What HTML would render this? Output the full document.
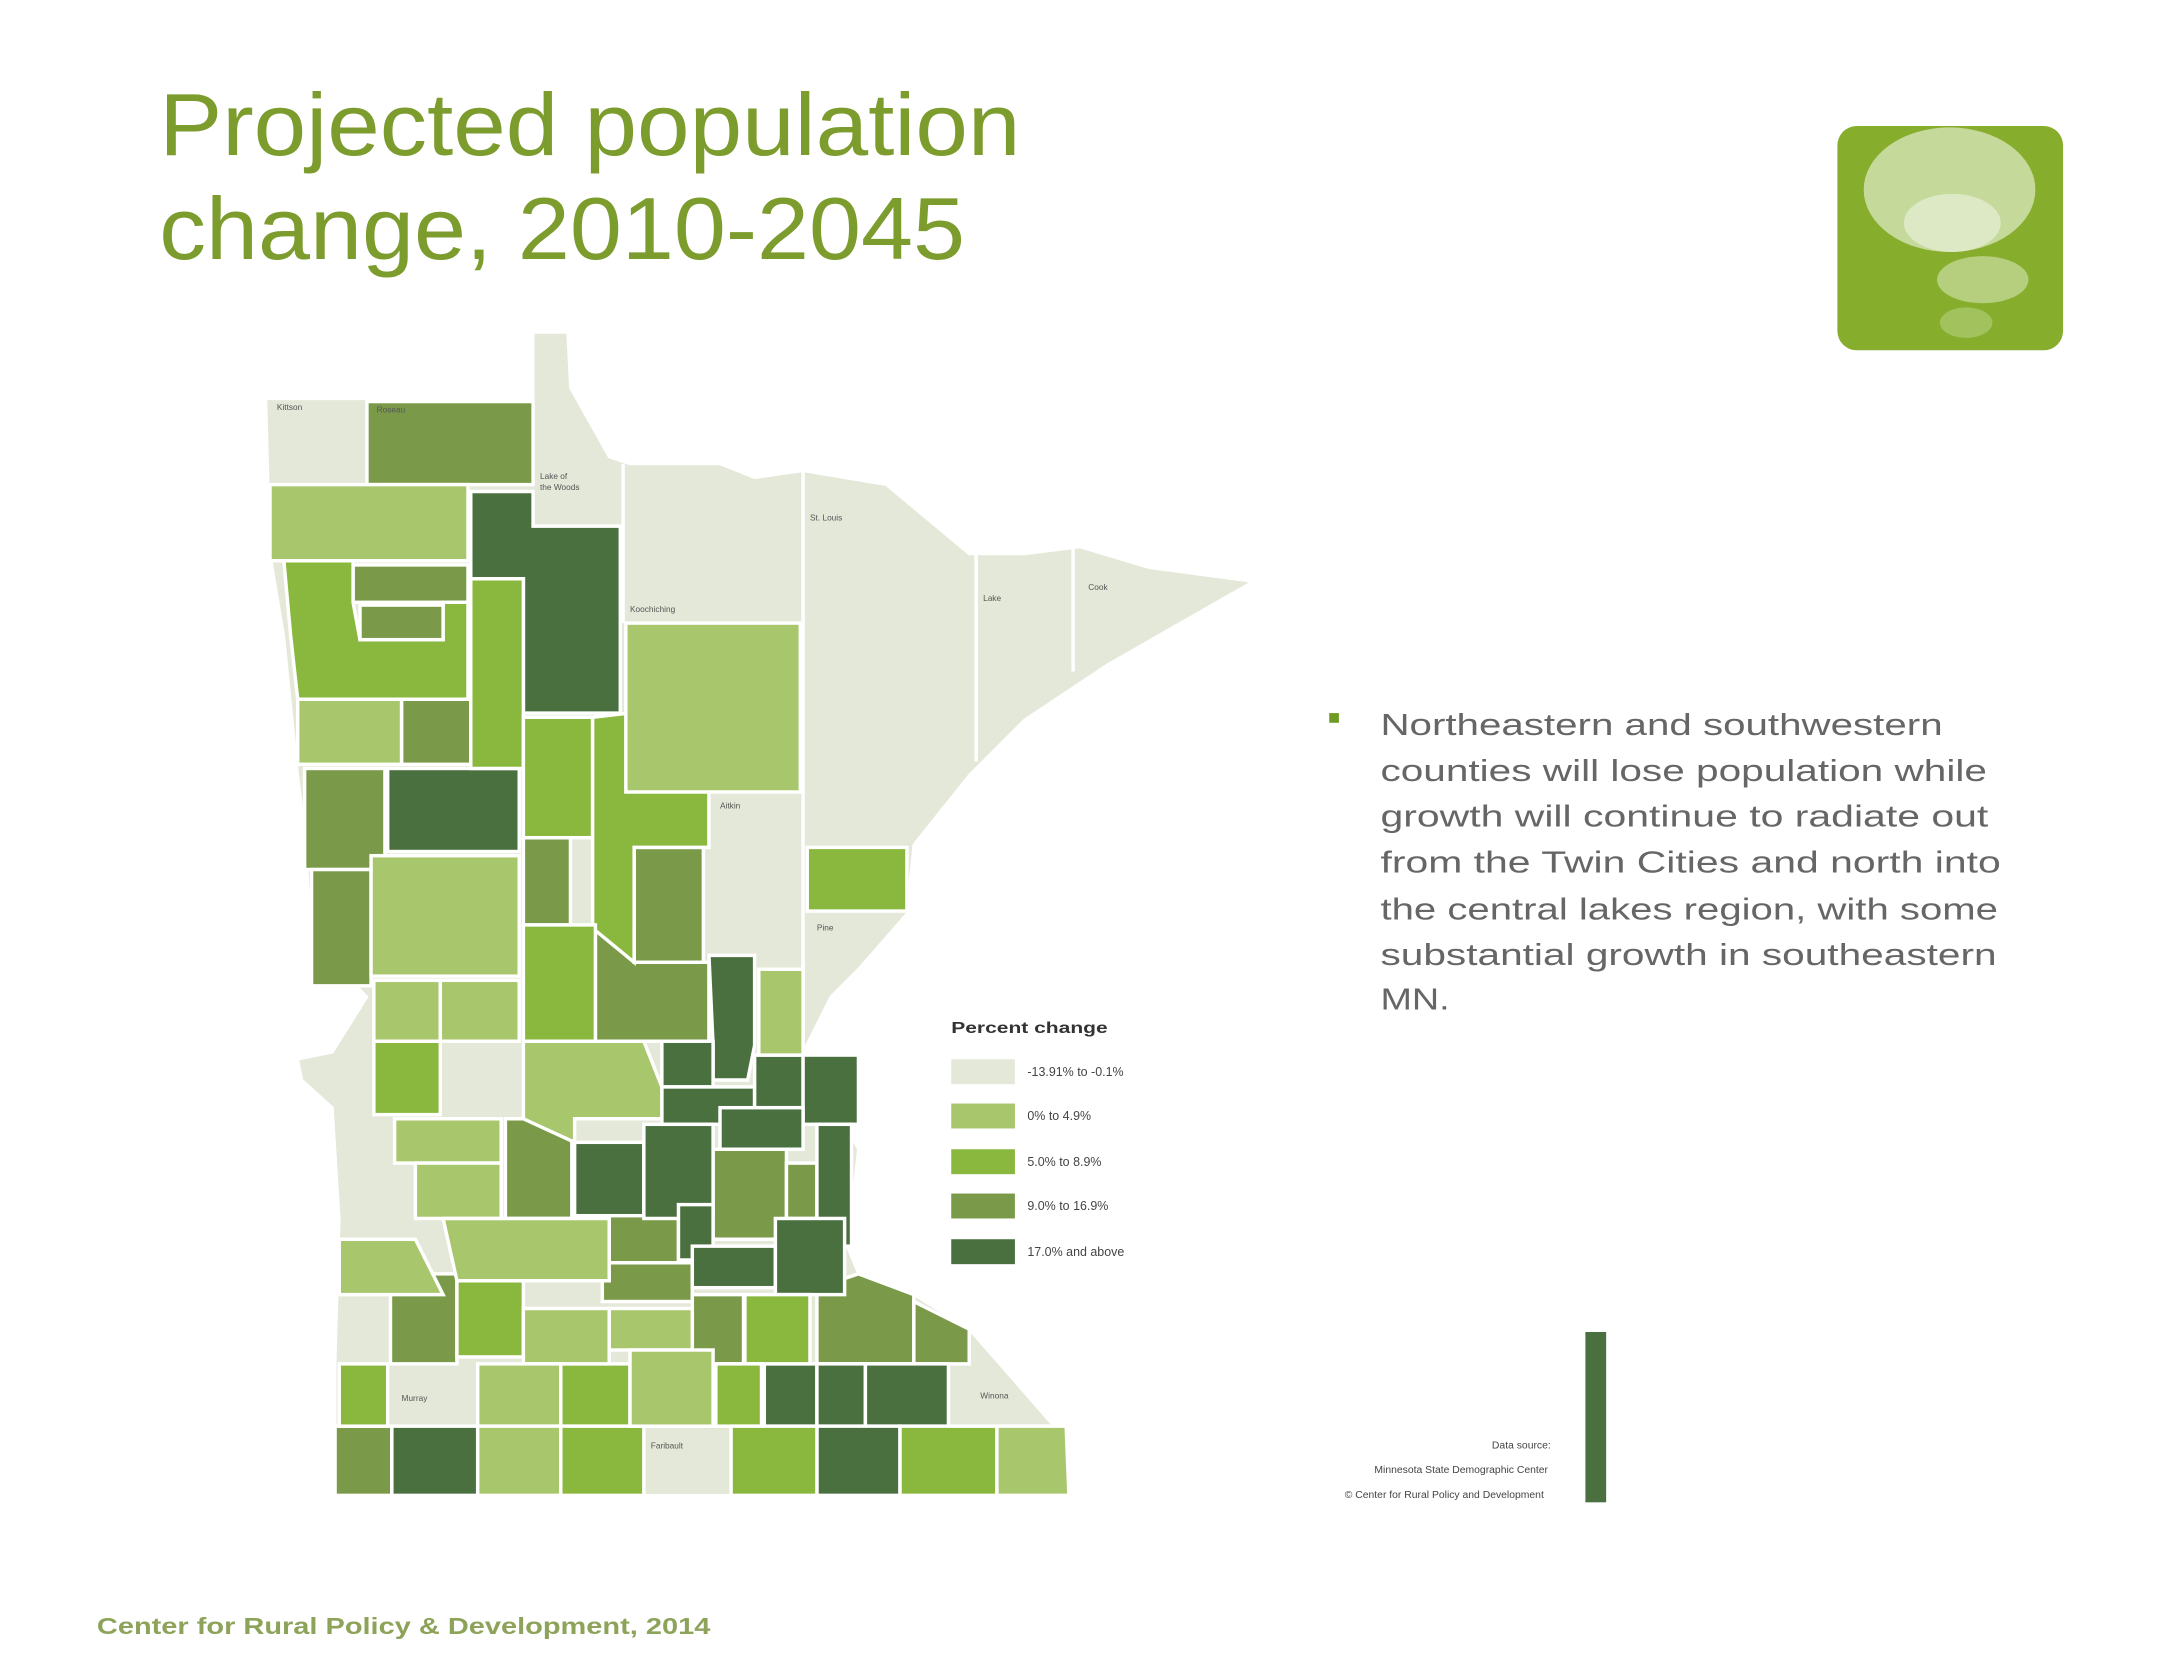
<!DOCTYPE html>
<html><head><meta charset="utf-8"><style>
html,body{margin:0;padding:0;background:#fff;}
svg{display:block;}
</style></head><body>
<svg width="2160" height="1680" viewBox="0 0 1560 1213.33" preserveAspectRatio="none" xmlns="http://www.w3.org/2000/svg" font-family="Liberation Sans, sans-serif">
<rect width="1560" height="1213.33" fill="#fff"/>
<!-- Title -->
<text x="115" y="112" font-size="64" fill="#7d9c2e" textLength="622" lengthAdjust="spacingAndGlyphs">Projected population</text>
<text x="115" y="187" font-size="64" fill="#7d9c2e" textLength="582" lengthAdjust="spacingAndGlyphs">change, 2010-2045</text>
<!-- Logo -->
<rect x="1327" y="91" width="163" height="162" rx="14" fill="#86ad2c"/>
<ellipse cx="1408" cy="137" rx="62" ry="45" fill="#c5d99a"/>
<ellipse cx="1410" cy="161" rx="35" ry="21" fill="#dde9c4"/>
<ellipse cx="1432" cy="202" rx="33" ry="17" fill="#b5cf7e"/>
<ellipse cx="1420" cy="233" rx="19" ry="11" fill="#a2c25e"/>
<!-- Map outline -->
<polygon fill="#e4e8d8" stroke="#fff" stroke-width="2" points="192,288 385,288 385,240 410,240 412,280 440,330 455,335 520,335 545,345 580,340 640,350 700,400 740,400 780,395 830,410 905,420 870,440 800,480 740,520 700,560 660,610 655,660 620,700 600,720 580,760 610,765 620,790 612,815 620,830 612,900 620,920 660,935 700,960 770,1040 772,1080 242,1080 242,985 245,880 240,800 218,780 215,765 240,760 265,720 225,680 220,600 215,560 205,460 195,400"/>
<g stroke="#fff" stroke-width="2.5">
<line x1="450" y1="335" x2="450" y2="450" />
<line x1="580" y1="340" x2="580" y2="760"/>
<line x1="705" y1="400" x2="705" y2="550"/>
<line x1="775" y1="395" x2="775" y2="485"/>
<g fill="#7a9a4a">
<rect x="265" y="290" width="120" height="60"/>
<rect x="255" y="408" width="83" height="27"/>
<rect x="290" y="505" width="50" height="47"/>
<rect x="220" y="555" width="58" height="73"/>
<rect x="225" y="628" width="43" height="84"/>
<rect x="378" y="605" width="34" height="63"/>
<rect x="458" y="612" width="50" height="83"/>
<polygon points="430,672 458,672 458,695 512,695 512,752 430,752"/>
<rect x="365" y="808" width="48" height="72"/>
<rect x="515" y="830" width="53" height="65"/>
<rect x="568" y="840" width="22" height="40"/>
<rect x="440" y="870" width="50" height="42"/>
<rect x="435" y="912" width="65" height="28"/>
<rect x="500" y="935" width="37" height="50"/>
<polygon points="590,930 620,920 660,935 660,985 590,985"/>
<polygon points="660,940 700,960 700,985 660,985"/>
<rect x="282" y="920" width="48" height="65"/>
<rect x="242" y="1030" width="41" height="50"/>
</g>
<g fill="#4a7040">
<polygon points="340,355 385,355 385,380 448,380 448,515 378,515 378,418 340,418"/>
<rect x="280" y="555" width="95" height="60"/>
<polygon points="512,690 545,690 545,755 540,780 515,780 515,755"/>
<rect x="478" y="752" width="37" height="33"/>
<rect x="478" y="785" width="67" height="27"/>
<rect x="545" y="762" width="35" height="38"/>
<rect x="580" y="762" width="40" height="50"/>
<rect x="415" y="825" width="50" height="53"/>
<rect x="465" y="812" width="50" height="68"/>
<rect x="520" y="800" width="60" height="30"/>
<rect x="590" y="812" width="25" height="88"/>
<rect x="490" y="870" width="25" height="40"/>
<rect x="500" y="900" width="60" height="30"/>
<rect x="560" y="880" width="50" height="55"/>
<rect x="552" y="985" width="38" height="45"/>
<rect x="590" y="985" width="35" height="45"/>
<rect x="625" y="985" width="60" height="45"/>
<rect x="283" y="1030" width="62" height="50"/>
<rect x="590" y="1030" width="60" height="50"/>
</g>
<g fill="#8ab83e">
<polygon points="205,405 255,405 255,435 260,462 320,462 320,435 338,435 338,505 215,505 210,460"/>
<rect x="260" y="437" width="60" height="25" fill="#7a9a4a"/>
<rect x="340" y="418" width="38" height="137"/>
<rect x="378" y="518" width="50" height="87"/>
<polygon points="428,518 480,512 512,540 512,612 458,612 458,695 430,672 428,672"/>
<rect x="583" y="612" width="72" height="46"/>
<rect x="378" y="668" width="52" height="84"/>
<rect x="270" y="752" width="48" height="53"/>
<rect x="538" y="935" width="47" height="50"/>
<rect x="330" y="910" width="48" height="70"/>
<rect x="245" y="985" width="35" height="45"/>
<rect x="405" y="985" width="50" height="45"/>
<rect x="517" y="985" width="33" height="45"/>
<rect x="405" y="1030" width="60" height="50"/>
<rect x="528" y="1030" width="62" height="50"/>
<rect x="650" y="1030" width="70" height="50"/>
</g>
<g fill="#a8c66c">
<rect x="195" y="350" width="143" height="55"/>
<rect x="452" y="450" width="126" height="122"/>
<rect x="215" y="505" width="75" height="47"/>
<rect x="268" y="618" width="107" height="87"/>
<rect x="548" y="700" width="32" height="62"/>
<rect x="270" y="708" width="48" height="44"/>
<rect x="318" y="708" width="57" height="44"/>
<polygon points="378,752 465,752 478,785 478,808 415,808 415,825 378,808"/>
<rect x="285" y="808" width="77" height="32"/>
<rect x="300" y="840" width="62" height="40"/>
<polygon points="245,895 300,895 320,935 245,935"/>
<polygon points="320,880 440,880 440,925 330,925"/>
<rect x="440" y="945" width="60" height="30"/>
<rect x="378" y="945" width="62" height="40"/>
<rect x="345" y="985" width="60" height="45"/>
<rect x="455" y="975" width="60" height="55"/>
<rect x="345" y="1030" width="60" height="50"/>
<polygon points="720,1030 770,1030 772,1080 720,1080"/>
</g>
</g>
<g font-size="6" fill="#555">
<text x="200" y="296">Kittson</text><text x="272" y="298">Roseau</text><text x="390" y="346">Lake of</text><text x="390" y="354">the Woods</text>
<text x="585" y="376">St. Louis</text><text x="710" y="434">Lake</text><text x="786" y="426">Cook</text>
<text x="455" y="442">Koochiching</text><text x="520" y="584">Aitkin</text><text x="590" y="672">Pine</text>
<text x="708" y="1010">Winona</text><text x="470" y="1046">Faribault</text><text x="290" y="1012">Murray</text>
</g>
<!-- Legend -->
<text x="687" y="746" font-size="11" font-weight="bold" fill="#333" textLength="113" lengthAdjust="spacingAndGlyphs">Percent change</text>
<rect x="687" y="765" width="46" height="18" fill="#e4e8d8"/>
<rect x="687" y="797" width="46" height="18" fill="#a8c66c"/>
<rect x="687" y="830" width="46" height="18" fill="#8ab83e"/>
<rect x="687" y="862" width="46" height="18" fill="#7a9a4a"/>
<rect x="687" y="895" width="46" height="18" fill="#4a7040"/>
<g font-size="9" fill="#444">
<text x="742" y="777">-13.91% to -0.1%</text>
<text x="742" y="809">0% to 4.9%</text>
<text x="742" y="842">5.0% to 8.9%</text>
<text x="742" y="874">9.0% to 16.9%</text>
<text x="742" y="907">17.0% and above</text>
</g>
<rect x="1145" y="962" width="15" height="123" fill="#4a7040"/>
<g font-size="7.5" fill="#444" text-anchor="end">
<text x="1120" y="1046">Data source:</text>
<text x="1118" y="1064">Minnesota State Demographic Center</text>
<text x="1115" y="1082">© Center for Rural Policy and Development</text>
</g>
<!-- Bullet -->
<rect x="960" y="515" width="7" height="7" fill="#6f9a24"/>
<g font-size="22" fill="#666">
<text x="997" y="531" textLength="406" lengthAdjust="spacingAndGlyphs">Northeastern and southwestern</text>
<text x="997" y="564" textLength="438" lengthAdjust="spacingAndGlyphs">counties will lose population while</text>
<text x="997" y="597" textLength="439" lengthAdjust="spacingAndGlyphs">growth will continue to radiate out</text>
<text x="997" y="630" textLength="448" lengthAdjust="spacingAndGlyphs">from the Twin Cities and north into</text>
<text x="997" y="664" textLength="446" lengthAdjust="spacingAndGlyphs">the central lakes region, with some</text>
<text x="997" y="697" textLength="445" lengthAdjust="spacingAndGlyphs">substantial growth in southeastern</text>
<text x="997" y="729" textLength="50" lengthAdjust="spacingAndGlyphs">MN.</text>
</g>
<text x="70" y="1180" font-size="17" font-weight="bold" fill="#8ea35a" textLength="443" lengthAdjust="spacingAndGlyphs">Center for Rural Policy &amp; Development, 2014</text>
</svg>
</body></html>
